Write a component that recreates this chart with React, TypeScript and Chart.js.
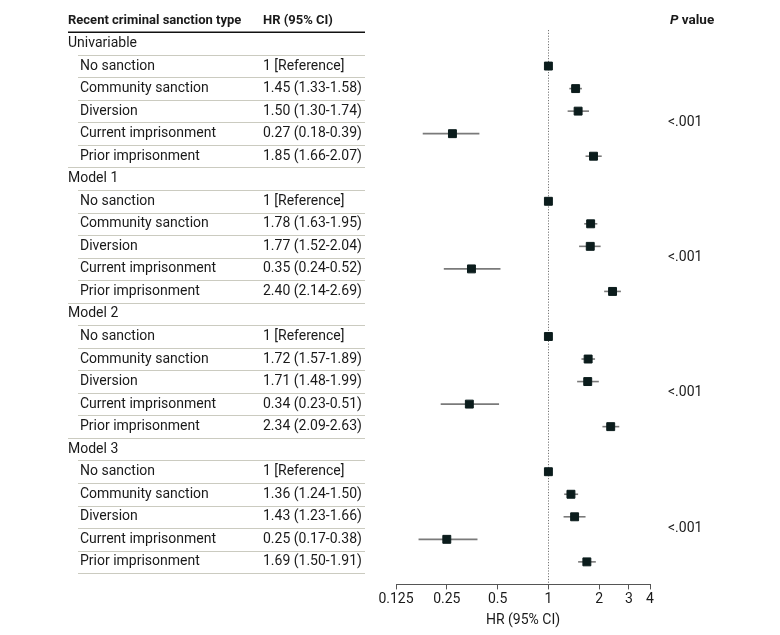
import React, { useEffect, useRef } from "react";
import { Chart, registerables } from "chart.js";

Chart.register(...registerables);

const groups = ["Univariable", "Model 1", "Model 2", "Model 3"];
const categories = [
  "No sanction",
  "Community sanction",
  "Diversion",
  "Current imprisonment",
  "Prior imprisonment",
];
// HR, lower, upper per group (No sanction is reference = 1)
const hrUni = [1, 1.45, 1.5, 0.27, 1.85];
const loUni = [1, 1.33, 1.3, 0.18, 1.66];
const hiUni = [1, 1.58, 1.74, 0.39, 2.07];
const hrM1 = [1, 1.78, 1.77, 0.35, 2.4];
const loM1 = [1, 1.63, 1.52, 0.24, 2.14];
const hiM1 = [1, 1.95, 2.04, 0.52, 2.69];
const hrM2 = [1, 1.72, 1.71, 0.34, 2.34];
const loM2 = [1, 1.57, 1.48, 0.23, 2.09];
const hiM2 = [1, 1.89, 1.99, 0.51, 2.63];
const hrM3 = [1, 1.36, 1.43, 0.25, 1.69];
const loM3 = [1, 1.24, 1.23, 0.17, 1.5];
const hiM3 = [1, 1.5, 1.66, 0.38, 1.91];
const pValues = ["<.001", "<.001", "<.001", "<.001"];
const tickValues = [0.125, 0.25, 0.5, 1, 2, 3, 4];
const tickLabels = ["0.125", "0.25", "0.5", "1", "2", "3", "4"];

const hrSets = [hrUni, hrM1, hrM2, hrM3];
const loSets = [loUni, loM1, loM2, loM3];
const hiSets = [hiUni, hiM1, hiM2, hiM3];

type Row = { kind: "group" | "item"; label: string; hrText?: string; hr?: number; lo?: number; hi?: number; last?: boolean; group: number };

const rows: Row[] = [];
groups.forEach((g, gi) => {
  rows.push({ kind: "group", label: g, group: gi });
  categories.forEach((c, ci) => {
    const hr = hrSets[gi][ci];
    const lo = loSets[gi][ci];
    const hi = hiSets[gi][ci];
    const hrText = ci === 0 ? "1 [Reference]" : `${hr.toFixed(2)} (${lo.toFixed(2)}-${hi.toFixed(2)})`;
    rows.push({ kind: "item", label: c, hrText, hr, lo, hi, last: ci === categories.length - 1, group: gi });
  });
});

const FONT = "Roboto";
const FS = 14;
const FSB = 13;
const TEXT = "#1a1a1a";
const SEP = "#cbcbc0";

export default function App() {
  const ref = useRef<HTMLCanvasElement>(null);
  useEffect(() => {
    if (!ref.current) return;
    const points = rows
      .map((r, i) => (r.kind === "item" ? { x: r.hr as number, y: i } : null))
      .filter(Boolean) as { x: number; y: number }[];

    const forestPlugin = {
      id: "forest",
      beforeDatasetsDraw(chart: any) {
        const { ctx, chartArea, scales } = chart;
        const xs = scales.x;
        const ys = scales.y;
        ctx.save();
        // reference line
        ctx.strokeStyle = "#777";
        ctx.lineWidth = 1;
        ctx.setLineDash([1.2, 1.6]);
        const rx = Math.round(xs.getPixelForValue(1)) + 0.5;
        ctx.beginPath();
        ctx.moveTo(rx, chartArea.top);
        ctx.lineTo(rx, chartArea.bottom);
        ctx.stroke();
        ctx.setLineDash([]);
        // CIs
        ctx.strokeStyle = "#7a7a7a";
        ctx.lineWidth = 1.6;
        rows.forEach((r, i) => {
          if (r.kind !== "item" || r.lo === r.hi) return;
          const y = ys.getPixelForValue(i);
          ctx.beginPath();
          ctx.moveTo(xs.getPixelForValue(r.lo), y);
          ctx.lineTo(xs.getPixelForValue(r.hi), y);
          ctx.stroke();
        });
        ctx.restore();
      },
      afterDraw(chart: any) {
        const { ctx, scales } = chart;
        const ys = scales.y;
        const colL = 68;
        const colItem = 80;
        const colHR = 263;
        const colR = 365;
        const colP = 668;
        ctx.save();
        ctx.textBaseline = "middle";
        ctx.fillStyle = TEXT;
        // header
        const headY = ys.getPixelForValue(-1);
        ctx.font = `bold ${FSB}px ${FONT}`;
        ctx.fillText("Recent criminal sanction type", colL, headY);
        ctx.fillText("HR (95% CI)", colHR, headY);
        ctx.font = `italic bold ${FSB + 0.5}px ${FONT}`;
        ctx.fillText("P", colP + 2, headY);
        const pw = ctx.measureText("P").width;
        ctx.font = `bold ${FSB + 0.5}px ${FONT}`;
        ctx.fillText(" value", colP + 2 + pw, headY);
        // thick line under header
        const step = ys.getPixelForValue(1) - ys.getPixelForValue(0);
        ctx.strokeStyle = "#111";
        ctx.lineWidth = 1.5;
        ctx.beginPath();
        const hl = ys.getPixelForValue(-0.5);
        ctx.moveTo(colL, hl);
        ctx.lineTo(colR, hl);
        ctx.stroke();
        // rows
        ctx.font = `${FS}px ${FONT}`;
        rows.forEach((r, i) => {
          const y = ys.getPixelForValue(i);
          ctx.fillStyle = TEXT;
          if (r.kind === "group") {
            ctx.fillText(r.label, colL, y);
          } else {
            ctx.fillText(r.label, colItem, y);
            ctx.fillText(r.hrText as string, colHR, y);
          }
          const ly = Math.round(y + step / 2) + 0.5;
          const isLastOverall = i === rows.length - 1;
          const startX = r.kind === "item" && r.last && !isLastOverall ? colL : colItem - 2;
          ctx.strokeStyle = SEP;
          ctx.lineWidth = 1;
          ctx.beginPath();
          ctx.moveTo(startX, ly);
          ctx.lineTo(colR, ly);
          ctx.stroke();
        });
        // p values
        groups.forEach((g, gi) => {
          const y = ys.getPixelForValue(gi * 6 + 3.5);
          ctx.fillStyle = TEXT;
          ctx.fillText(pValues[gi], colP, y);
        });
        ctx.restore();
      },
    };

    const chart = new Chart(ref.current, {
      type: "scatter",
      data: {
        datasets: [
          {
            data: points,
            pointStyle: "rect",
            pointRadius: 5.6,
            pointBackgroundColor: "#0b1c1c",
            pointBorderColor: "#0b1c1c",
            pointBorderWidth: 1,
            showLine: false,
          },
        ],
      },
      options: {
        responsive: false,
        animation: false,
        events: [],
        layout: { padding: { left: 396, right: 130, top: 30, bottom: 6 } },
        plugins: { legend: { display: false }, tooltip: { enabled: false } },
        scales: {
          x: {
            type: "logarithmic",
            min: 0.125,
            max: 4,
            afterBuildTicks(scale: any) {
              scale.ticks = tickValues.map((v) => ({ value: v }));
            },
            ticks: {
              autoSkip: false,
              maxRotation: 0,
              padding: 2,
              color: TEXT,
              font: { family: FONT, size: FS },
              callback: (v: any) => {
                const idx = tickValues.indexOf(Number(v));
                return idx >= 0 ? tickLabels[idx] : "";
              },
            },
            grid: { drawOnChartArea: false, drawTicks: true, tickLength: 5, color: "#555" },
            border: { display: true, color: "#555", width: 1 },
            title: {
              display: true,
              text: "HR (95% CI)",
              color: TEXT,
              font: { family: FONT, size: FS },
              padding: { top: 2, bottom: 0 },
            },
          },
          y: {
            type: "linear",
            min: -0.6,
            max: 24,
            reverse: true,
            display: false,
          },
        },
      },
      plugins: [forestPlugin],
    });
    return () => chart.destroy();
  }, []);
  return (
    <div style={{ position: "absolute", left: 0, top: 0, width: 780, height: 635, background: "#fff" }}>
      <canvas ref={ref} width={780} height={635} style={{ display: "block" }} />
    </div>
  );
}
